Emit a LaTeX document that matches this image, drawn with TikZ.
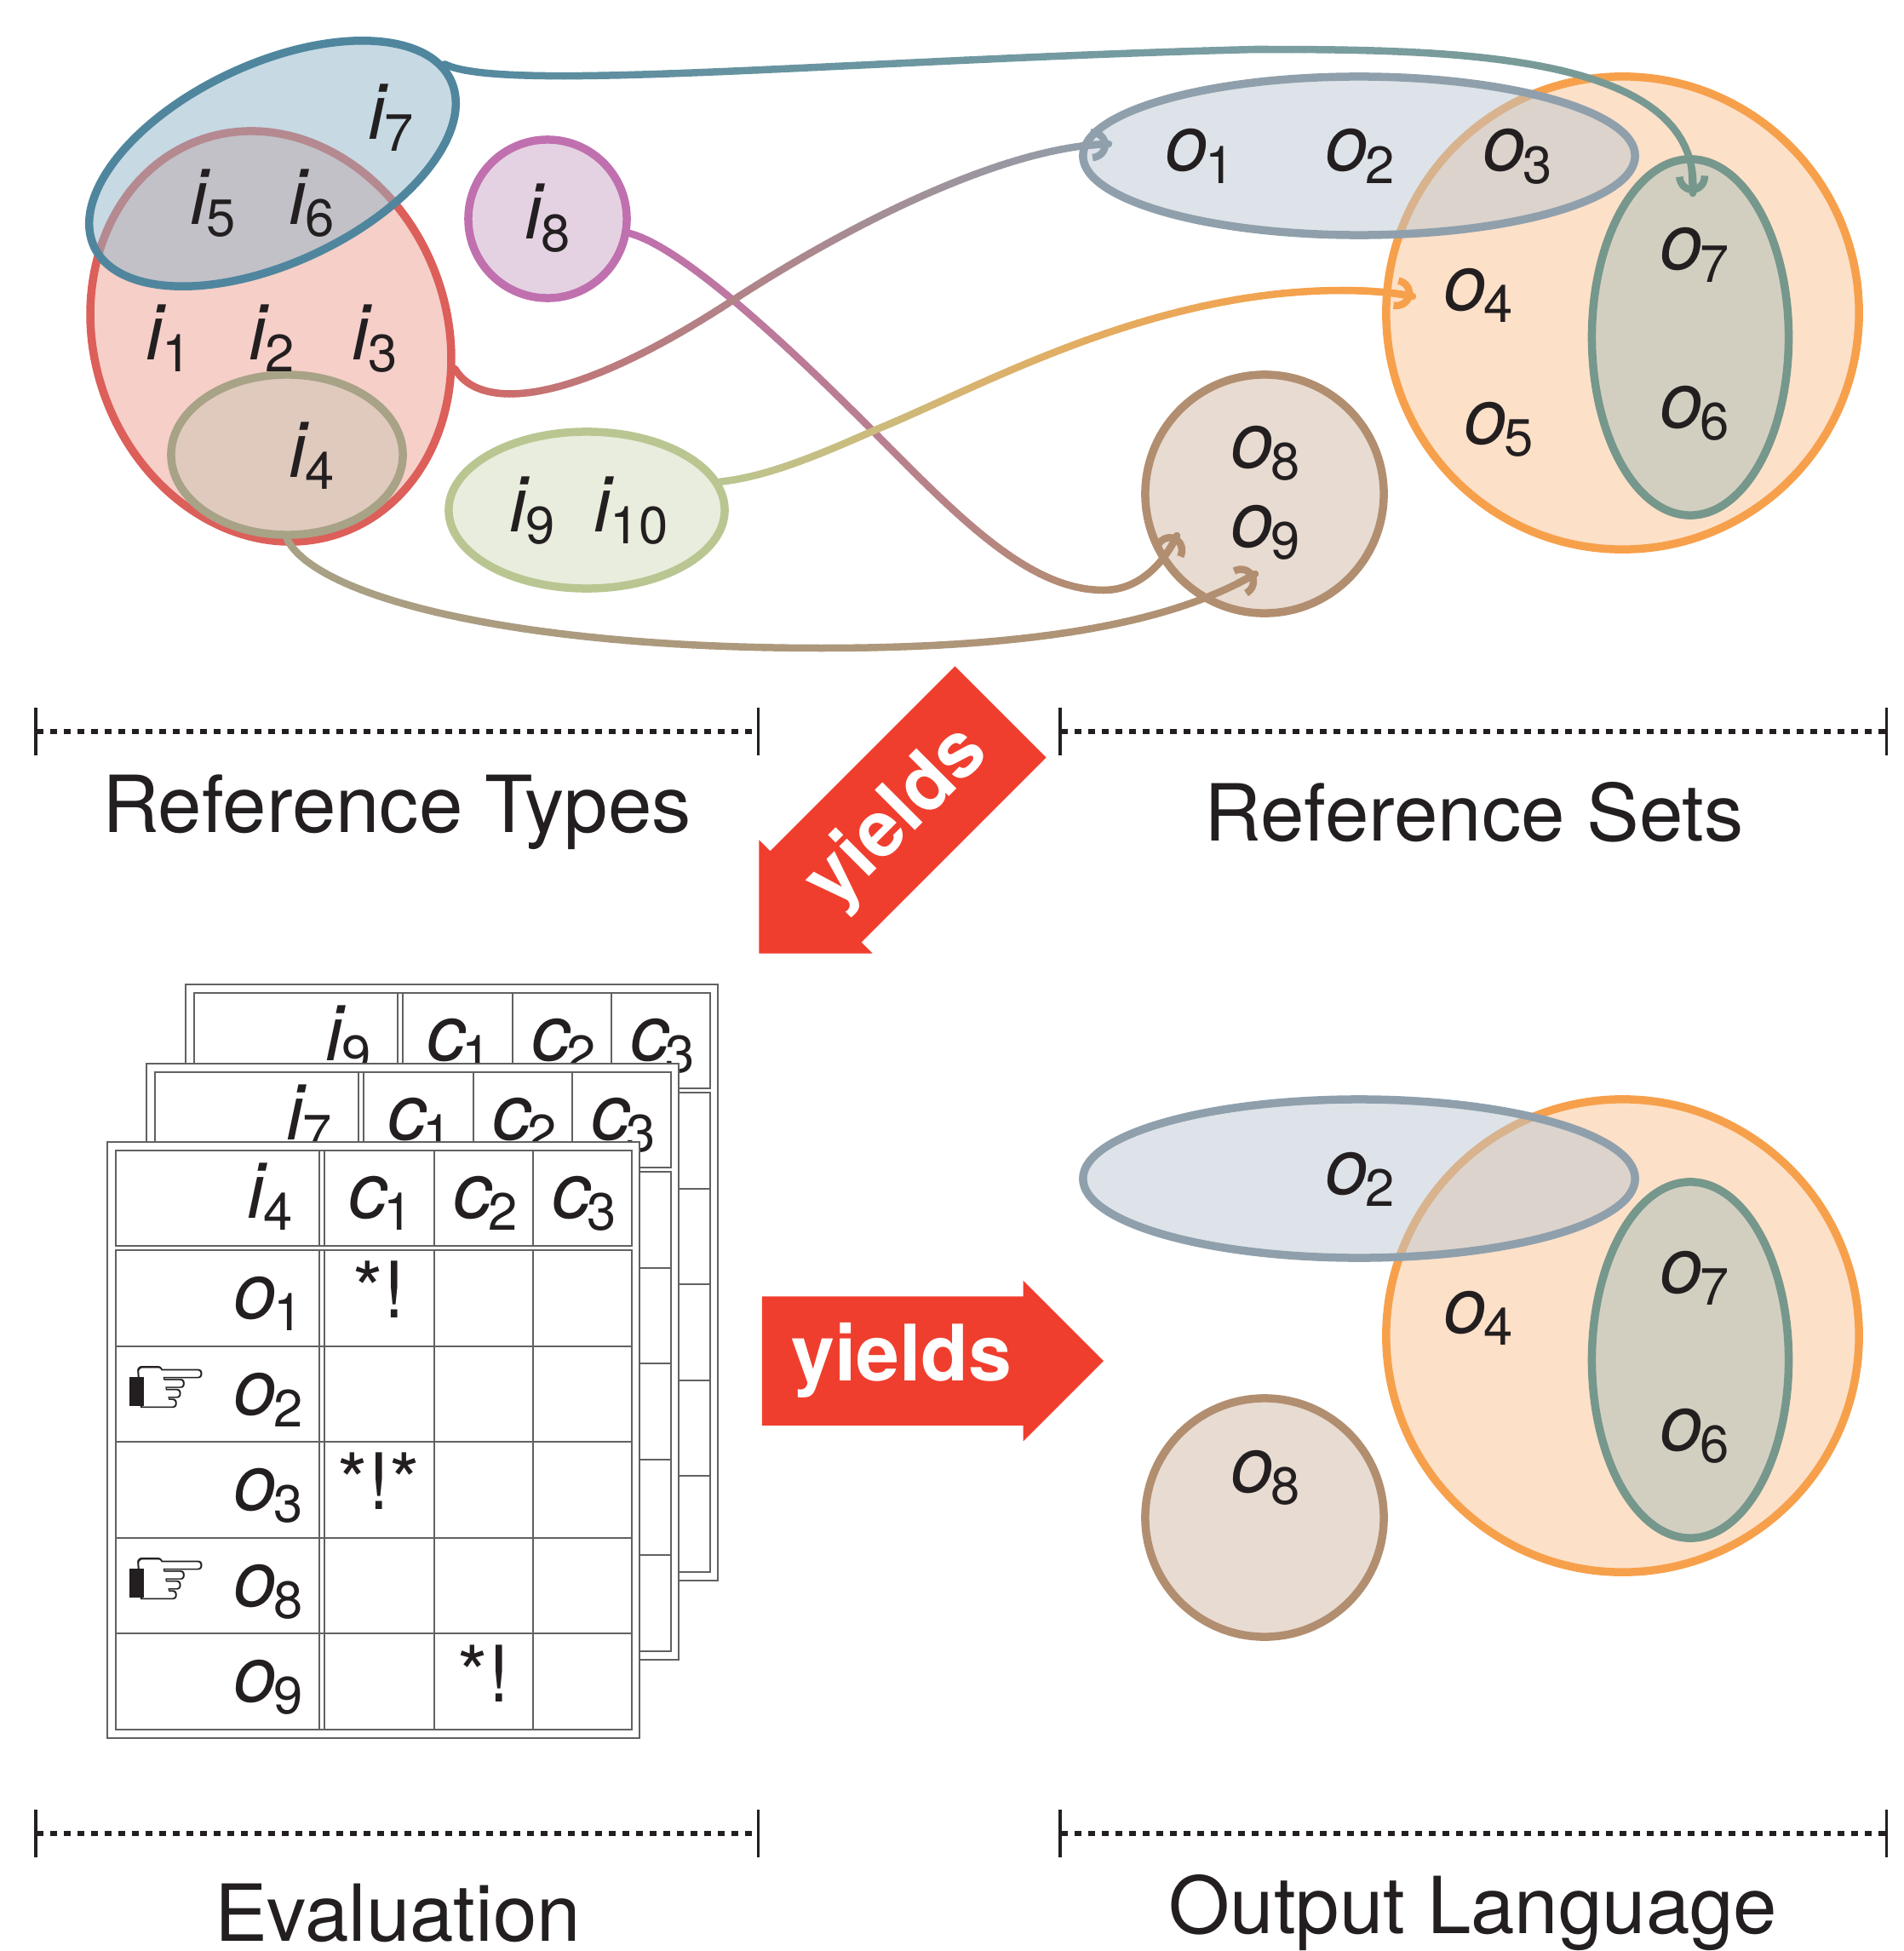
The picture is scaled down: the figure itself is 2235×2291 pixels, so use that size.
\documentclass[tikz,border=0pt]{standalone}
\usepackage{fontspec}
\setmainfont{TeX Gyre Heros}
\newfontfamily\handfont{DejaVu Sans}
\usetikzlibrary{arrows.meta,shapes.geometric,shapes.arrows}
\definecolor{ink}{RGB}{35,31,32}
\definecolor{setblue}{RGB}{79,134,158}
\definecolor{setred}{RGB}{220,95,90}
\definecolor{setolive}{RGB}{168,162,135}
\definecolor{setpurple}{RGB}{192,112,175}
\definecolor{setgreen}{RGB}{185,198,145}
\definecolor{setgrey}{RGB}{143,160,172}
\definecolor{setorange}{RGB}{247,160,75}
\definecolor{setteal}{RGB}{118,151,140}
\definecolor{setbrown}{RGB}{178,142,112}
\definecolor{fillblue}{RGB}{143,179,199}
\definecolor{fillred}{RGB}{235,159,145}
\definecolor{fillolive}{RGB}{201,197,180}
\definecolor{fillpurple}{RGB}{201,165,197}
\definecolor{fillgreen}{RGB}{209,219,187}
\definecolor{fillgrey}{RGB}{187,199,209}
\definecolor{fillorange}{RGB}{251,193,145}
\definecolor{fillteal}{RGB}{167,190,186}
\definecolor{fillbrown}{RGB}{209,183,163}
\definecolor{yieldred}{RGB}{240,62,46}
\definecolor{midteal}{RGB}{122,158,162}
\colorlet{midredgrey}{setred!45!setgrey}
\colorlet{midpurple}{setpurple!50!setbrown}
\colorlet{midgreen}{setgreen!70!setorange}
\colorlet{midolive}{setolive!50!setbrown}
\newcommand{\vs}[2]{\textit{#1}\kern-.05em\raisebox{-.16em}{\fontsize{17.5}{20}\selectfont #2}}
\tikzset{
  refset/.style 2 args={ellipse,draw=#1,fill=#2,fill opacity=.5,draw opacity=1,line width=.095cm,inner sep=0pt},
  vlabel/.style={anchor=base,inner sep=0pt,text=ink,font=\fontsize{26}{30}\selectfont},
  caption/.style={anchor=base,inner sep=0pt,text=ink,font=\fontsize{26.3}{30}\selectfont},
  link/.style={line width=.085cm,line cap=round},
  tabline/.style={line width=.02cm,draw=black!62},
  ruler/.style={line width=.055cm,ink,dash pattern=on .08cm off .08cm,{Bar[width=.56cm,line width=.035cm]}-{Bar[width=.56cm,line width=.035cm]}},
  yieldarrow/.style={single arrow,fill=yieldred,inner sep=0pt,minimum height=4.01cm,single arrow head extend=.185cm,single arrow tip angle=90},
  yieldtext/.style={inner sep=0pt,text=white,font=\fontsize{26}{30}\selectfont\bfseries},
  hand/.style={inner sep=0pt,anchor=base,text=ink,font=\handfont\fontsize{30}{34}\selectfont}
}
\newcommand{\gradcurve}[6]{%
  \foreach \k in {0,...,48} {\path #1 .. controls #2 and #3 .. #4 coordinate[pos=\k/48] (gc\k);}
  \foreach \k [evaluate=\k as \n using int(\k+1),evaluate=\k as \mix using \k*100/47] in {0,...,47} {
    \draw[link,draw=#6!\mix!#5] (gc\k) -- (gc\n);
  }
}
\newcommand{\arrowend}[1]{\draw[link,draw=#1,-{Arc Barb[length=.2cm,width=.38cm]}] (gc45) -- (gc48);}
\newcommand{\evaltable}[4]{%
  \begin{scope}[shift={(#2,#3)}]
    \draw[tabline,fill=white] (126,1341) rectangle (751,2041);
    \draw[tabline] (136,1351) rectangle (742,1463);
    \draw[tabline] (136,1468) rectangle (742,2031);
    \foreach \y in {1581,1693,1806,1918} \draw[tabline] (136,\y) -- (742,\y);
    \foreach \x in {375,381,510,626} {
      \draw[tabline] (\x,1351) -- (\x,1463);
      \draw[tabline] (\x,1468) -- (\x,2031);
    }
    \node[vlabel] (#1i) at (317,1430) {\vs{i}{#4}};
    \node[vlabel] (#1c1) at (447,1430) {\vs{c}{1}};
    \node[vlabel] (#1c2) at (570,1430) {\vs{c}{2}};
    \node[vlabel] (#1c3) at (686,1430) {\vs{c}{3}};
  \end{scope}
}
\begin{document}
\begin{tikzpicture}[x=.01cm,y=-.01cm]
\useasboundingbox (0,0) rectangle (2235,2291);

% reference types
\node[refset={setred}{fillred},minimum width=4.9cm,minimum height=4.14cm,rotate=-70] (setall) at (318,395) {};
\node[refset={setolive}{fillolive},minimum width=2.72cm,minimum height=1.88cm] (setfour) at (337,534) {};
\node[refset={setblue}{fillblue},minimum width=4.62cm,minimum height=2.34cm,rotate=25] (setseven) at (320,192) {};
\node[refset={setpurple}{fillpurple},minimum width=1.86cm,minimum height=1.86cm] (seteight) at (643,257) {};
\node[refset={setgreen}{fillgreen},minimum width=3.24cm,minimum height=1.84cm] (setnine) at (689,599) {};
\node[vlabel] (i1) at (198,422) {\vs{i}{1}};
\node[vlabel] (i2) at (319,422) {\vs{i}{2}};
\node[vlabel] (i3) at (440,422) {\vs{i}{3}};
\node[vlabel] (i4) at (366,560) {\vs{i}{4}};
\node[vlabel] (i5) at (250,263) {\vs{i}{5}};
\node[vlabel] (i6) at (366,263) {\vs{i}{6}};
\node[vlabel] (i7) at (459,163) {\vs{i}{7}};
\node[vlabel] (i8) at (643,281) {\vs{i}{8}};
\node[vlabel] (i9) at (625,624) {\vs{i}{9}};
\node[vlabel] (i10) at (741,624) {\vs{i}{10}};

% reference sets
\node[refset={setorange}{fillorange},minimum width=5.55cm,minimum height=5.55cm] (setorange) at (1905.5,367.5) {};
\node[refset={setgrey}{fillgrey},minimum width=6.48cm,minimum height=1.86cm] (setgrey) at (1596,183) {};
\node[refset={setteal}{fillteal},minimum width=2.31cm,minimum height=4.18cm] (setteal) at (1985,396) {};
\node[refset={setbrown}{fillbrown},minimum width=2.8cm,minimum height=2.8cm] (setbrown) at (1485,580) {};
\node[vlabel] (o1) at (1409,201) {\vs{o}{1}};
\node[vlabel] (o2) at (1597,201) {\vs{o}{2}};
\node[vlabel] (o3) at (1782,201) {\vs{o}{3}};
\node[vlabel] (o4) at (1736,364) {\vs{o}{4}};
\node[vlabel] (o5) at (1760,521) {\vs{o}{5}};
\node[vlabel] (o6) at (1990,502) {\vs{o}{6}};
\node[vlabel] (o7) at (1990,317) {\vs{o}{7}};
\node[vlabel] (o8) at (1486,549) {\vs{o}{8}};
\node[vlabel] (o9) at (1486,642) {\vs{o}{9}};

% connectors
\coordinate (tipseven) at (1988,227);
\coordinate (tipone) at (1302,169);
\coordinate (tipfour) at (1659,348);
\coordinate (tipeight) at (1382,629);
\coordinate (tipnine) at (1474,674);
\coordinate (topbend) at (1474,58);
\coordinate (redbend) at (860,353);
\coordinate (purplebend) at (1030,511);
\coordinate (purplelow) at (1296,693);
\coordinate (greenbend) at (1030,504);
\coordinate (greentop) at (1576,341);
\coordinate (olivelow) at (964,761);

\gradcurve{(setseven.5)}{(590,110)}{(1000,70)}{(topbend)}{setblue}{midteal}
\gradcurve{(topbend)}{(1700,58)}{(2000,60)}{(tipseven)}{midteal}{setteal}
\arrowend{setteal}
\gradcurve{(seteight.-10)}{(800,290)}{(920,400)}{(purplebend)}{setpurple}{midpurple}
\gradcurve{(purplebend)}{(1130,612)}{(1210,693)}{(purplelow)}{midpurple}{setbrown}
\gradcurve{(purplelow)}{(1335,693)}{(1365,665)}{(tipeight)}{setbrown}{setbrown}
\arrowend{setbrown}
\gradcurve{(setall.60)}{(558,475)}{(650,490)}{(redbend)}{setred}{midredgrey}
\gradcurve{(redbend)}{(1000,262)}{(1180,172)}{(tipone)}{midredgrey}{setgrey}
\arrowend{setgrey}
\gradcurve{(setnine.12)}{(900,560)}{(960,535)}{(greenbend)}{setgreen}{midgreen}
\gradcurve{(greenbend)}{(1150,455)}{(1350,341)}{(greentop)}{midgreen}{setorange}
\gradcurve{(greentop)}{(1610,341)}{(1640,344)}{(tipfour)}{setorange}{setorange}
\arrowend{setorange}
\gradcurve{(setfour.south)}{(370,700)}{(600,761)}{(olivelow)}{setolive}{midolive}
\gradcurve{(olivelow)}{(1200,761)}{(1370,735)}{(tipnine)}{midolive}{setbrown}
\arrowend{setbrown}

% rulers and captions
\coordinate (ruleA) at (40,859);
\coordinate (ruleB) at (892,859);
\coordinate (ruleC) at (1243,859);
\coordinate (ruleD) at (2217,859);
\coordinate (ruleE) at (40,2153);
\coordinate (ruleF) at (892,2153);
\coordinate (ruleG) at (1243,2153);
\coordinate (ruleH) at (2217,2153);
\draw[ruler] (ruleA) -- (ruleB);
\draw[ruler] (ruleC) -- (ruleD);
\draw[ruler] (ruleE) -- (ruleF);
\draw[ruler] (ruleG) -- (ruleH);
\node[caption] (captypes) at (466,977) {Reference Types};
\node[caption] (capsets) at (1731,987) {Reference Sets};
\node[caption] (capeval) at (467,2279) {Evaluation};
\node[caption] (capout) at (1730,2270) {Output Language};

% yields arrows
\node[yieldarrow,shape border rotate=180,rotate=45] (yieldsup) at (1060,951) {\rule{0pt}{1.5cm}};
\node[yieldtext,rotate=45] (yieldsuptext) at (1055,961) {yields};
\node[yieldarrow] (yieldsdown) at (1057.5,1598) {\rule{0pt}{1.5cm}};
\node[yieldtext,anchor=base] (yieldsdowntext) at (1059,1621) {yields};

% evaluation tables
\evaltable{ta}{92}{-185}{9}
\evaltable{tb}{46}{-92}{7}
\evaltable{tc}{0}{0}{4}
\node[vlabel] (ro1) at (315,1548) {\vs{o}{1}};
\node[vlabel] (ro2) at (315,1661) {\vs{o}{2}};
\node[vlabel] (ro3) at (315,1773) {\vs{o}{3}};
\node[vlabel] (ro8) at (315,1886) {\vs{o}{8}};
\node[vlabel] (ro9) at (315,1998) {\vs{o}{9}};
\node[vlabel] (markA) at (445,1547) {*!};
\node[vlabel] (markB) at (445,1772) {*!*};
\node[vlabel] (markC) at (568,1998) {*!};
\node[hand] (handA) at (200,1664) {☞};
\node[hand] (handB) at (200,1889) {☞};
\foreach \h in {handA,handB} \fill[ink] ([yshift=.17cm]\h.west) rectangle ([xshift=.17cm,yshift=-.17cm]\h.west);

% output language
\node[refset={setorange}{fillorange},minimum width=5.55cm,minimum height=5.55cm] (outorange) at (1905.5,1568.5) {};
\node[refset={setgrey}{fillgrey},minimum width=6.48cm,minimum height=1.86cm] (outgrey) at (1596,1384) {};
\node[refset={setteal}{fillteal},minimum width=2.31cm,minimum height=4.18cm] (outteal) at (1985,1597) {};
\node[refset={setbrown}{fillbrown},minimum width=2.8cm,minimum height=2.8cm] (outbrown) at (1485,1782) {};
\node[vlabel] (outotwo) at (1597,1402) {\vs{o}{2}};
\node[vlabel] (outofour) at (1736,1565) {\vs{o}{4}};
\node[vlabel] (outosix) at (1990,1703) {\vs{o}{6}};
\node[vlabel] (outoseven) at (1990,1518) {\vs{o}{7}};
\node[vlabel] (outoeight) at (1486,1752) {\vs{o}{8}};
\end{tikzpicture}
\end{document}
